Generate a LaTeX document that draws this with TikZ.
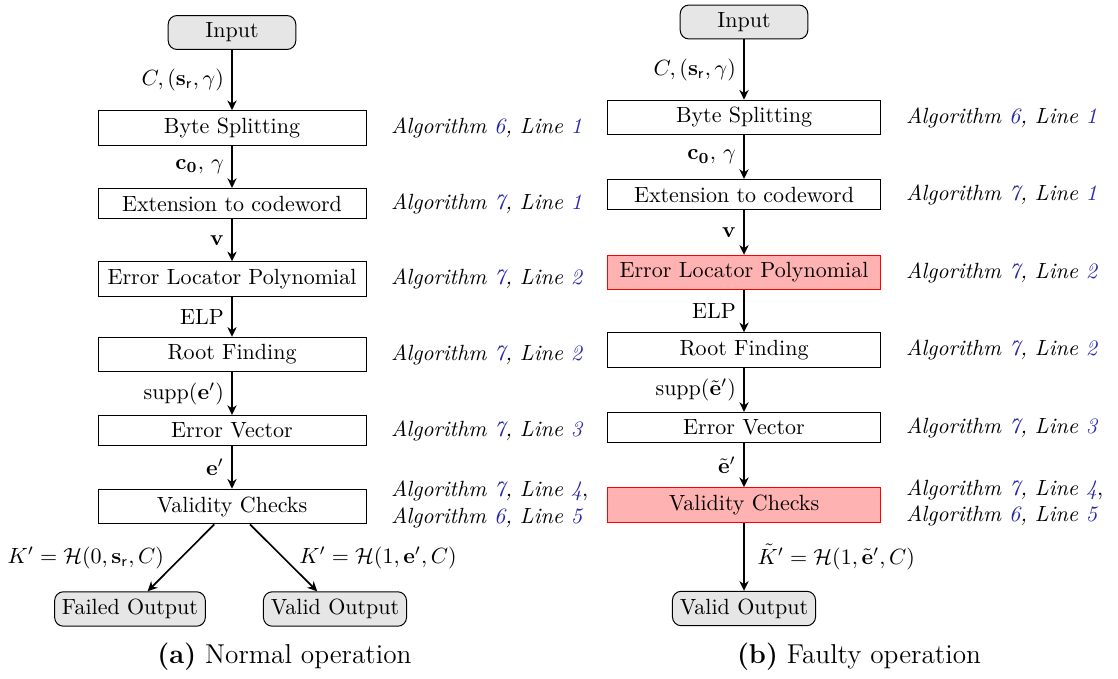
\documentclass[tikz,border=0pt]{standalone}
\usetikzlibrary{arrows.meta}
\definecolor{refblue}{RGB}{40,40,170}
\definecolor{faultfill}{RGB}{255,178,178}
\definecolor{termfill}{RGB}{230,230,230}
\newcommand{\algref}[2]{\textit{Algorithm \textcolor{refblue}{#1}, Line \textcolor{refblue}{#2}}}
\tikzset{
  base/.style={font=\fontsize{10}{12}\selectfont},
  stage/.style={base, draw, line width=0.45pt, inner sep=3.33pt, minimum width=#1},
  stage/.default=121.8pt,
  faulty/.style={fill=faultfill, draw=red},
  terminal/.style={base, draw, line width=0.45pt, rounded corners=4pt, fill=termfill, inner sep=3.33pt},
  flow/.style={-{Stealth[length=4.4pt,width=4.2pt,inset=1.4pt]}, line width=0.75pt},
  note/.style={base, anchor=west, inner sep=0pt, align=left},
  subcaption/.style={font=\fontsize{12.4}{15}\selectfont}
}
\begin{document}
\begin{tikzpicture}[x=0.4545pt, y=-0.4545pt]
  \useasboundingbox (0,0) rectangle (1118,679);

  % ---------- (a) normal operation ----------
  \node[terminal, minimum width=58pt] (inA) at (232,32.5) {Input};
  \node[stage] (bsA) at (232,128)   {Byte Splitting};
  \node[stage] (exA) at (232,203.5) {Extension to codeword};
  \node[stage] (elA) at (232,279)   {Error Locator Polynomial};
  \node[stage] (rfA) at (232,354.5) {Root Finding};
  \node[stage] (evA) at (232,430.5) {Error Vector};
  \node[stage] (vcA) at (232,506.5) {Validity Checks};
  \node[terminal] (foA) at (130,609) {Failed Output};
  \node[terminal] (voA) at (335,609) {Valid Output};

  \draw[flow] (inA) -- (bsA) node[base, midway, left] {$C,(\mathbf{s}_{\mathsf{r}},\gamma)$};
  \draw[flow] (bsA) -- (exA) node[base, midway, left] {$\mathbf{c_0},\,\gamma$};
  \draw[flow] (exA) -- (elA) node[base, midway, left] {$\mathbf{v}$};
  \draw[flow] (elA) -- (rfA) node[base, midway, left] {ELP};
  \draw[flow] (rfA) -- (evA) node[base, midway, left] {$\mathrm{supp}(\mathbf{e}')$};
  \draw[flow] (evA) -- (vcA) node[base, midway, left] {$\mathbf{e}'$};
  \draw[flow] (vcA) -- (foA) node[base, midway, left=4pt] {$K'=\mathcal{H}(0,\mathbf{s}_{\mathsf{r}},C)$};
  \draw[flow] (vcA) -- (voA) node[base, midway, right=3.5pt] {$K'=\mathcal{H}(1,\mathbf{e}',C)$};

  \node[note] (nbsA) at ([xshift=11pt]bsA.east) {\algref{6}{1}};
  \node[note] (nexA) at ([xshift=11pt]exA.east) {\algref{7}{1}};
  \node[note] (nelA) at ([xshift=11pt]elA.east) {\algref{7}{2}};
  \node[note] (nrfA) at ([xshift=11pt]rfA.east) {\algref{7}{2}};
  \node[note] (nevA) at ([xshift=11pt]evA.east) {\algref{7}{3}};
  \node[note] (nvcA) at ([xshift=11pt,yshift=1pt]vcA.east) {\algref{7}{4},\\\algref{6}{5}};

  \node[subcaption] (capA) at (284.5,657) {\textbf{(a)} Normal operation};

  % ---------- (b) faulty operation ----------
  \node[terminal, minimum width=58pt] (inB) at (744,22) {Input};
  \node[stage=124.5pt] (bsB) at (744,117.5) {Byte Splitting};
  \node[stage=124.5pt] (exB) at (744,194.5) {Extension to codeword};
  \node[stage=124.5pt, faulty] (elB) at (744,272.5) {Error Locator Polynomial};
  \node[stage=124.5pt] (rfB) at (744,350)   {Root Finding};
  \node[stage=124.5pt] (evB) at (744,427.5) {Error Vector};
  \node[stage=124.5pt, faulty] (vcB) at (744,505) {Validity Checks};
  \node[terminal] (voB) at (744,608.5) {Valid Output};

  \draw[flow] (inB) -- (bsB) node[base, midway, left] {$C,(\mathbf{s}_{\mathsf{r}},\gamma)$};
  \draw[flow] (bsB) -- (exB) node[base, midway, left] {$\mathbf{c_0},\,\gamma$};
  \draw[flow] (exB) -- (elB) node[base, midway, left] {$\mathbf{v}$};
  \draw[flow] (elB) -- (rfB) node[base, midway, left] {ELP};
  \draw[flow] (rfB) -- (evB) node[base, midway, left] {$\mathrm{supp}(\tilde{\mathbf{e}}')$};
  \draw[flow] (evB) -- (vcB) node[base, midway, left] {$\tilde{\mathbf{e}}'$};
  \draw[flow] (vcB) -- (voB) node[base, midway, right=2.5pt] {$\tilde{K}'=\mathcal{H}(1,\tilde{\mathbf{e}}',C)$};

  \node[note] (nbsB) at ([xshift=11pt]bsB.east) {\algref{6}{1}};
  \node[note] (nexB) at ([xshift=11pt]exB.east) {\algref{7}{1}};
  \node[note] (nelB) at ([xshift=11pt]elB.east) {\algref{7}{2}};
  \node[note] (nrfB) at ([xshift=11pt]rfB.east) {\algref{7}{2}};
  \node[note] (nevB) at ([xshift=11pt]evB.east) {\algref{7}{3}};
  \node[note] (nvcB) at ([xshift=11pt,yshift=1pt]vcB.east) {\algref{7}{4},\\\algref{6}{5}};

  \node[subcaption] (capB) at (859,657) {\textbf{(b)} Faulty operation};
\end{tikzpicture}
\end{document}
